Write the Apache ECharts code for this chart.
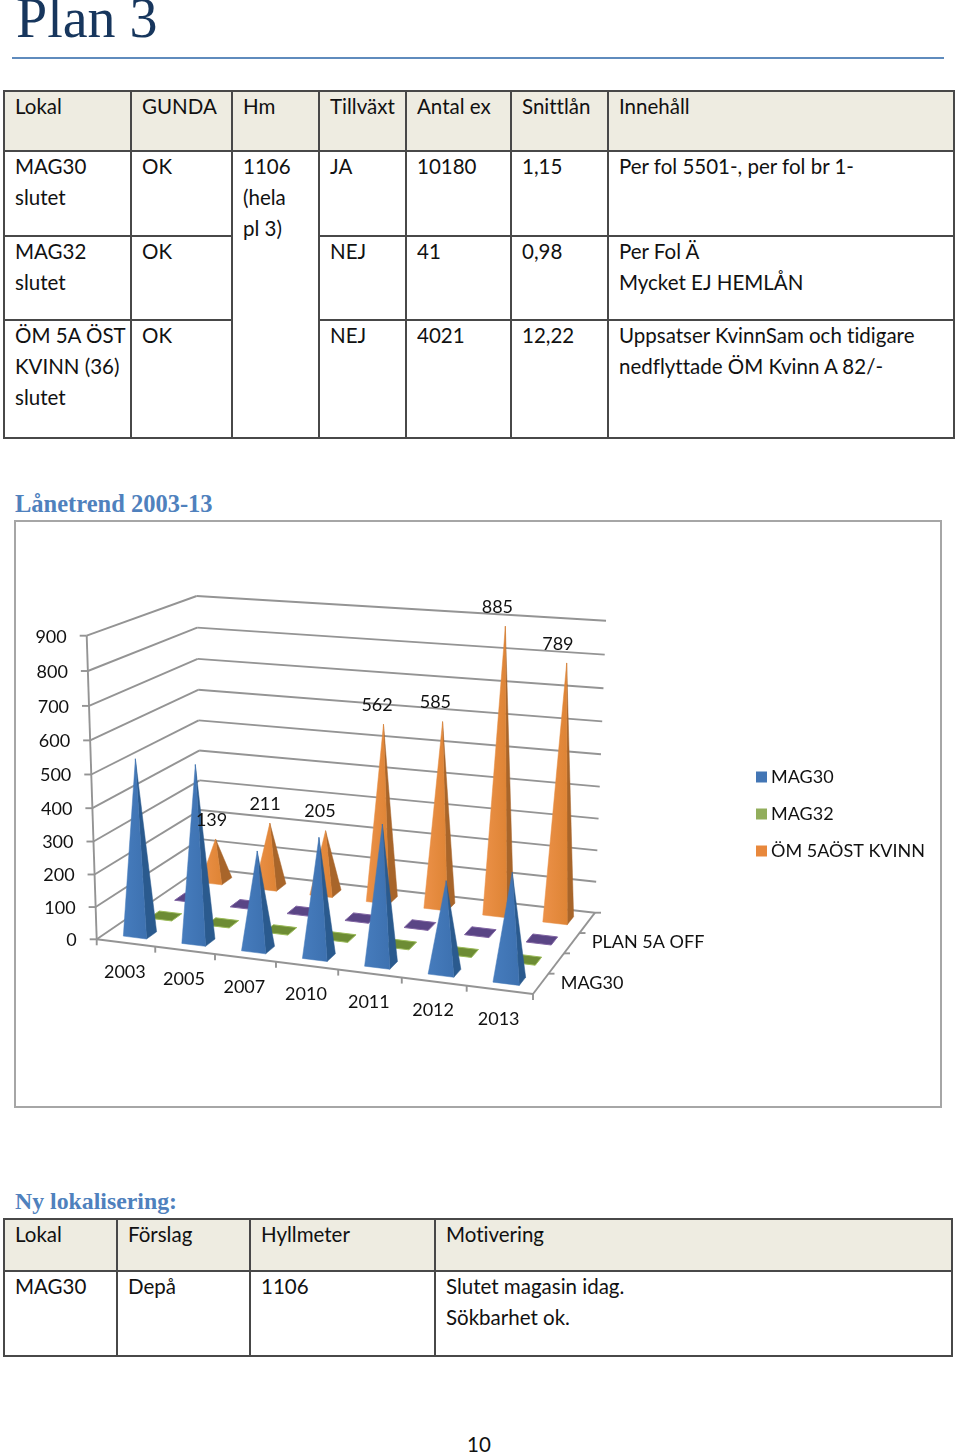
<!DOCTYPE html>
<html lang="sv"><head><meta charset="utf-8">
<script src="https://cdn.jsdelivr.net/npm/echarts@6/dist/echarts.min.js"></script>
<style>
html,body{margin:0;padding:0;background:#fff;width:960px;height:1454px;overflow:hidden}
body{position:relative;font-family:Lato,"Noto Sans",sans-serif;color:#111;font-size:20.5px;font-variant-ligatures:none}
.abs{position:absolute;white-space:nowrap}
table{position:absolute;border-collapse:collapse;table-layout:fixed;font-size:20.5px;line-height:31px}
td{border:2px solid #484848;vertical-align:top;padding:0 0 0 10px;box-sizing:border-box}
td::before{content:"";display:block;margin-top:-1.5px}
tr.h td{background:#eeece1}
.heading{font-family:"Liberation Serif",serif;font-weight:bold;color:#4f81bd;font-size:24.5px}
#chart{position:absolute;left:0;top:510px;width:960px;height:610px}
#frame{position:absolute;left:14px;top:520px;width:924px;height:584px;border:2px solid #a6a6a6}
</style></head>
<body>
<div class="abs" style="left:16px;top:-17px;font-family:'Liberation Serif',serif;font-size:56px;line-height:70px;color:#17365d">Plan 3</div>
<div class="abs" style="left:12px;top:57px;width:932px;height:2px;background:#5f8bbd"></div>

<table style="left:3px;top:90px;width:950px">
<colgroup><col style="width:127px"><col style="width:101px"><col style="width:87px"><col style="width:87px"><col style="width:105px"><col style="width:97px"><col style="width:346px"></colgroup>
<tr class="h" style="height:60px"><td>Lokal</td><td>GUNDA</td><td>Hm</td><td>Tillväxt</td><td>Antal ex</td><td>Snittlån</td><td>Innehåll</td></tr>
<tr style="height:85px"><td>MAG30<br>slutet</td><td>OK</td><td rowspan="3">1106<br>(hela<br>pl 3)</td><td>JA</td><td>10180</td><td>1,15</td><td>Per fol 5501-, per fol br 1-</td></tr>
<tr style="height:84px"><td>MAG32<br>slutet</td><td>OK</td><td>NEJ</td><td>41</td><td>0,98</td><td>Per Fol Ä<br>Mycket EJ HEMLÅN</td></tr>
<tr style="height:118px"><td>ÖM 5A ÖST<br>KVINN (36)<br>slutet</td><td>OK</td><td>NEJ</td><td>4021</td><td>12,22</td><td>Uppsatser KvinnSam och tidigare<br>nedflyttade ÖM Kvinn A 82/-</td></tr>
</table>

<div class="abs heading" style="left:15px;top:490px">Lånetrend 2003-13</div>
<div id="frame"></div>
<div id="chart"></div>

<div class="abs heading" style="left:15px;top:1188px;font-size:23.8px">Ny lokalisering:</div>
<table style="left:3px;top:1218px;width:948px">
<colgroup><col style="width:113px"><col style="width:133px"><col style="width:185px"><col style="width:517px"></colgroup>
<tr class="h" style="height:52px"><td>Lokal</td><td>Förslag</td><td>Hyllmeter</td><td>Motivering</td></tr>
<tr style="height:85px"><td>MAG30</td><td>Depå</td><td>1106</td><td>Slutet magasin idag.<br>Sökbarhet ok.</td></tr>
</table>
<div class="abs" style="left:467px;top:1432px">10</div>

<script>
// ---- chart data ----
var years = ['2003','2005','2007','2010','2011','2012','2013'];
var mag30 = [535,535,297,357,415,270,315];
var mag32 = [0,0,0,0,0,0,0];
var plan5aOff = [0,0,0,0,0,0,0];
var om5aOstKvinn = [139,211,205,562,585,885,789];
var valueTicks = [0,100,200,300,400,500,600,700,800,900];
var legendNames = ['MAG30','MAG32','ÖM 5AÖST KVINN'];
var depthLabels = ['MAG30','PLAN 5A OFF'];

// ---- camera: screen corners of the 3D box, in chart pixels ----
var TOP = 510;
var FL0=[96.7,939.3-TOP], FR0=[533,994-TOP], BL0=[201,868-TOP], BR0=[595,912.7-TOP];
var FL1=[86.7,635.7-TOP], FR1=[543,671-TOP], BL1=[196.7,596-TOP], BR1=[606,620.7-TOP];
var GL=96.7, GW=436.3, GT=635.7-TOP, GH=303.6;
var FONT='18px Lato, "Noto Sans", sans-serif', INK='#111';
var LINE='#949494';

function mix(a,b,t){return [a[0]+(b[0]-a[0])*t,a[1]+(b[1]-a[1])*t];}
function warp(u){return 0.93*u/(1-0.07*u);}
function warpUp(t){return 0.95*t/(1-0.05*t);}
// u: 0..1 along the years, w: 0..1 into the depth, t: 0..1 up the value axis
function project(u,w,t){
  var uu=warp(u);
  var b=mix(mix(FL0,FR0,uu),mix(BL0,BR0,uu),w);
  var h=mix(mix(FL1,FR1,uu),mix(BL1,BR1,uu),w);
  return mix(b,h,warpUp(t));
}
function frontPlane(api,i,v){
  var p=api.coord([i,v]);
  return {u:(p[0]-GL)/GW,t:(GT+GH-p[1])/GH};
}
function poly(points,fill,stroke){
  return {type:'polygon',shape:{points:points},style:{fill:fill,stroke:stroke||fill,lineWidth:stroke?1:0.5}};
}
function seg(a,b){
  return {type:'line',shape:{x1:a[0],y1:a[1],x2:b[0],y2:b[1]},style:{stroke:LINE,lineWidth:1.9,fill:null}};
}
function txt(x,y,s,align){
  return {type:'text',style:{x:x,y:y,text:s,font:FONT,fill:INK,align:align||'center',verticalAlign:'middle'}};
}
function vgrad(c0,c1){
  return {type:'linear',x:0,y:0,x2:1,y2:0,colorStops:[{offset:0,color:c0},{offset:1,color:c1}]};
}
var ROWS=4, NUDGE=1.5;
function shift(p){return [p[0]+NUDGE,p[1]];}
function pyramid(row,front0,front1,side,flatEdge){
  return function(params,api){
    var i=api.value(0), v=api.value(1);
    var f=frontPlane(api,i,v);
    var band=api.size([1,0])[0]/GW;
    var du=band*0.2, w=(row+0.5)/ROWS, dw=0.2/ROWS;
    var a=shift(project(f.u-du,w-dw,0)), b=shift(project(f.u+du,w-dw,0)),
        c=shift(project(f.u+du,w+dw,0)), d=shift(project(f.u-du,w+dw,0));
    var kids=[];
    if(v===0){
      kids.push(poly([a,b,c,d],front0,flatEdge));
    }else{
      var top=shift(project(f.u,w,f.t));
      kids.push(poly([b,c,top],side));
      kids.push(poly([a,b,top],vgrad(front0,front1)));
    }
    return {type:'group',children:kids};
  };
}
function topLabels(row){
  return function(params,api){
    var i=api.value(0), v=api.value(1);
    var f=frontPlane(api,i,v), top=shift(project(f.u,(row+0.5)/ROWS,f.t));
    return txt(top[0]-4-0.8*i,top[1]-19,String(v));
  };
}
function walls(params,api){
  var v=api.value(1), f=frontPlane(api,0,v), t=f.t;
  var fl=project(0,0,t), bl=project(0,1,t), br=project(1,1,t);
  return {type:'group',children:[
    seg(fl,bl), seg(bl,br),
    seg([fl[0]-7,fl[1]],fl),
    txt(fl[0]-20,fl[1]+1,String(v),'right')
  ]};
}
function axesFrame(params,api){
  var o=project(0,0,0), r=project(1,0,0), k=project(1,1,0);
  return {type:'group',children:[
    seg(o,project(0,0,1)), seg(o,r), seg(r,k),
    seg(k,[k[0]+6,k[1]]),
    seg(o,[o[0],o[1]+6]), seg(r,[r[0],r[1]+6])
  ]};
}
function yearMarks(params,api){
  var i=api.value(0), f=frontPlane(api,i,0);
  var band=api.size([1,0])[0]/GW;
  var edge=project(f.u+band/2,0,0), mid=project(f.u,0,0);
  var kids=[txt(mid[0]-1,mid[1]+29,years[i])];
  if(i<years.length-1){kids.push(seg(edge,[edge[0],edge[1]+6]));}
  return {type:'group',children:kids};
}
function depthMarks(params,api){
  var r=api.value(0), kids=[];
  if(r>0){var p=project(1,r/ROWS,0);kids.push(seg(p,[p[0]+6,p[1]]));}
  if(r%2===0){var q=project(1,(r+0.5)/ROWS,0);kids.push(txt(q[0]+20,q[1]-1,depthLabels[r/2],'left'));}
  return {type:'group',children:kids};
}
function rows(values){return values.map(function(v,i){return [i,v];});}

var chart=echarts.init(document.getElementById('chart'),null,{renderer:'canvas'});
function helper(id,data,fn,z){
  return {type:'custom',id:id,name:id,coordinateSystem:'cartesian2d',clip:false,silent:true,data:data,renderItem:fn,z:z||1};
}
chart.setOption({
  animation:false,
  legend:{data:legendNames,orient:'vertical',left:751,top:253,itemWidth:11,itemHeight:11,itemGap:19,icon:'rect',
    selectedMode:false,textStyle:{fontFamily:'Lato',fontSize:18,color:INK,padding:[0,0,0,-1]}},
  grid:{left:GL,top:GT,width:GW,height:GH,containLabel:false},
  xAxis:{type:'category',data:years,show:false},
  yAxis:{type:'value',min:0,max:900,interval:100,show:false},
  series:[
    helper('walls',valueTicks.map(function(v){return [0,v];}),walls),
    helper('frame',[[0,0]],axesFrame),
    helper('yearMarks',rows(years.map(function(){return 0;})),yearMarks),
    helper('depthMarks',[[0,0],[1,0],[2,0],[3,0]],depthMarks),
    {type:'custom',name:'ÖM 5AÖST KVINN',coordinateSystem:'cartesian2d',clip:false,silent:true,z:2,itemStyle:{color:'#e8883c'},
      data:rows(om5aOstKvinn),renderItem:pyramid(3,'#ec9148','#de8435','#a8652a',null)},
    {type:'custom',name:'PLAN 5A OFF',coordinateSystem:'cartesian2d',clip:false,silent:true,z:3,itemStyle:{color:'#5a4585'},
      data:rows(plan5aOff),renderItem:pyramid(2,'#5a4585','#5a4585','#5a4585','#8064a2')},
    {type:'custom',name:'MAG32',coordinateSystem:'cartesian2d',clip:false,silent:true,z:4,itemStyle:{color:'#92ae5c'},
      data:rows(mag32),renderItem:pyramid(1,'#6d8c34','#6d8c34','#6d8c34','#9bbb59')},
    {type:'custom',name:'MAG30',coordinateSystem:'cartesian2d',clip:false,silent:true,z:5,itemStyle:{color:'#4376b5'},
      data:rows(mag30),renderItem:pyramid(0,'#467cbd','#3d71b0','#2a5a8e',null)},
    helper('orangeLabels',rows(om5aOstKvinn),topLabels(3),6)
  ]
});
</script>
</body></html>
